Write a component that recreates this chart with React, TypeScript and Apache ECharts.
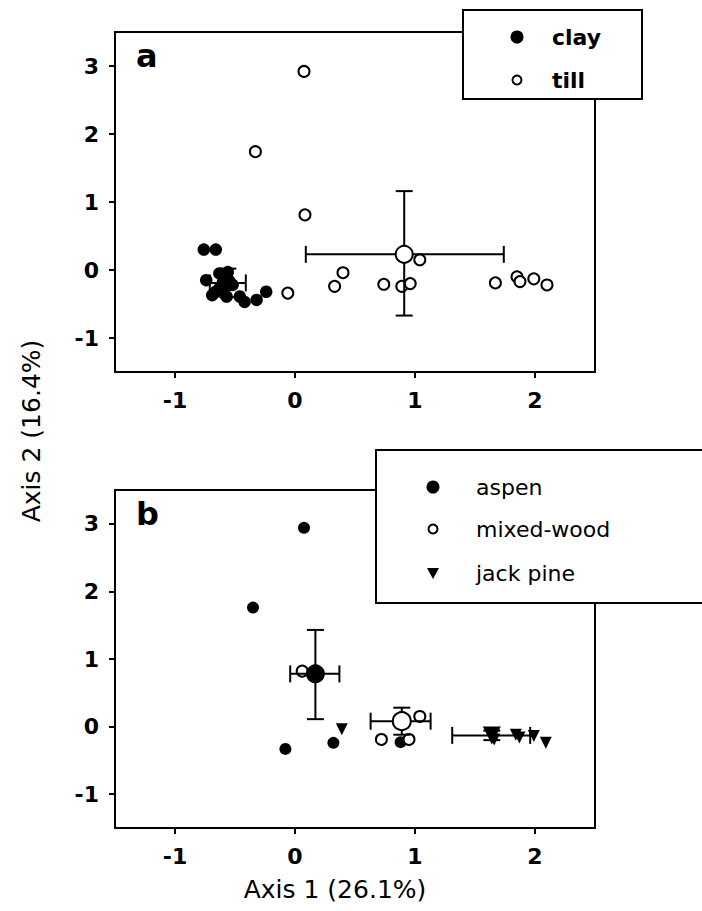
import React, { useEffect, useRef } from "react";
import * as echarts from "echarts";

const X_TICKS = [-1, 0, 1, 2];
const Y_TICKS = [-1, 0, 1, 2, 3];

// Panel a: soil type
const clayPoints: number[][] = [
  [-0.76, 0.3], [-0.66, 0.3], [-0.74, -0.15], [-0.63, -0.05], [-0.56, -0.03],
  [-0.69, -0.37], [-0.63, -0.27], [-0.52, -0.22], [-0.57, -0.39], [-0.46, -0.39],
  [-0.42, -0.47], [-0.32, -0.44], [-0.24, -0.32], [-0.66, -0.32], [-0.6, -0.18],
];
const tillPoints: number[][] = [
  [0.075, 2.92], [-0.33, 1.74], [0.083, 0.81], [1.04, 0.15], [0.4, -0.04],
  [0.33, -0.24], [0.74, -0.21], [0.89, -0.24], [0.96, -0.2], [1.67, -0.19],
  [1.85, -0.1], [1.875, -0.17], [1.99, -0.13], [2.1, -0.22], [-0.06, -0.34],
];
// mean: [x, y, xLow, xHigh, yLow, yHigh]
const clayMean = [-0.56, -0.19, -0.71, -0.41, -0.4, 0.02];
const tillMean = [0.91, 0.23, 0.09, 1.74, -0.67, 1.16];

// Panel b: forest type
const aspenPoints: number[][] = [
  [0.075, 2.94], [-0.35, 1.76], [-0.08, -0.33], [0.32, -0.24], [0.88, -0.23],
];
const mixedPoints: number[][] = [
  [0.06, 0.82], [0.72, -0.19], [0.95, -0.19], [1.04, 0.15],
];
const jackPoints: number[][] = [
  [0.39, -0.04], [1.66, -0.19], [1.84, -0.12], [1.87, -0.16], [1.99, -0.14], [2.09, -0.24],
];
const aspenMean = [0.17, 0.78, -0.04, 0.37, 0.11, 1.43];
const mixedMean = [0.89, 0.08, 0.63, 1.13, -0.12, 0.28];
const jackMean = [1.64, -0.13, 1.31, 1.96, -0.2, -0.06];

const FONT = "DejaVu Sans";

function xAxis(gridIndex: number) {
  return {
    type: "value",
    gridIndex,
    min: -1.5,
    max: 2.5,
    axisLine: { show: true, onZero: false, lineStyle: { color: "#000", width: 2 } },
    axisTick: { show: true, customValues: X_TICKS, length: 6, lineStyle: { color: "#000", width: 2 } },
    axisLabel: { customValues: X_TICKS, margin: 17, fontSize: 22, fontWeight: "bold", fontFamily: FONT, color: "#000" },
    splitLine: { show: false },
  };
}
function yAxis(gridIndex: number) {
  return {
    type: "value",
    gridIndex,
    min: -1.5,
    max: 3.5,
    axisLine: { show: true, onZero: false, lineStyle: { color: "#000", width: 2 } },
    axisTick: { show: true, customValues: Y_TICKS, length: 6, lineStyle: { color: "#000", width: 2 } },
    axisLabel: { customValues: Y_TICKS, margin: 16, fontSize: 22, fontWeight: "bold", fontFamily: FONT, color: "#000" },
    splitLine: { show: false },
  };
}

const CAP = 8.5;
function errRender(params: any, api: any) {
  const x = api.value(0), y = api.value(1);
  const l = api.coord([api.value(2), y]);
  const r = api.coord([api.value(3), y]);
  const b = api.coord([x, api.value(4)]);
  const t = api.coord([x, api.value(5)]);
  const st = { stroke: "#000", lineWidth: 2 };
  const ln = (x1: number, y1: number, x2: number, y2: number) => ({
    type: "line", shape: { x1, y1, x2, y2 }, style: st,
  });
  return {
    type: "group",
    children: [
      ln(l[0], l[1], r[0], r[1]),
      ln(t[0], t[1], b[0], b[1]),
      ln(l[0], l[1] - CAP, l[0], l[1] + CAP),
      ln(r[0], r[1] - CAP, r[0], r[1] + CAP),
      ln(t[0] - CAP, t[1], t[0] + CAP, t[1]),
      ln(b[0] - CAP, b[1], b[0] + CAP, b[1]),
    ],
  };
}

const filled = { color: "#000", opacity: 1 };
const open = { color: "#fff", borderColor: "#000", borderWidth: 2, opacity: 1 };

function pts(idx: number, data: number[][], symbol: string, size: number, style: any, rotate = 0, z = 2) {
  return {
    type: "scatter", xAxisIndex: idx, yAxisIndex: idx, data, symbol, symbolSize: size,
    symbolRotate: rotate, itemStyle: style, z, silent: true,
  };
}
function err(idx: number, m: number[]) {
  return {
    type: "custom", xAxisIndex: idx, yAxisIndex: idx, renderItem: errRender,
    data: [m], encode: { x: 0, y: 1 }, z: 3, silent: true,
  };
}

export default function App() {
  const ref = useRef<HTMLDivElement>(null);
  useEffect(() => {
    document.body.style.margin = "0";
    const chart = echarts.init(ref.current!, undefined, { renderer: "svg" });
    const txt = (text: string, x: number, y: number, size: number, weight = "normal", extra: any = {}) => ({
      type: "text", x, y, z: 110,
      style: { text, fontSize: size, fontWeight: weight, fontFamily: FONT, fill: "#000", verticalAlign: "middle", ...extra.style },
    });
    chart.setOption({
      animation: false,
      grid: [
        { left: 115, top: 32, width: 480, height: 340, show: true, borderColor: "#000", borderWidth: 2 },
        { left: 115, top: 490, width: 480, height: 338, show: true, borderColor: "#000", borderWidth: 2 },
      ],
      xAxis: [xAxis(0), xAxis(1)],
      yAxis: [yAxis(0), yAxis(1)],
      series: [
        pts(0, clayPoints, "circle", 12.5, filled),
        pts(0, tillPoints, "circle", 11, open),
        err(0, clayMean),
        err(0, tillMean),
        pts(0, [clayMean.slice(0, 2)], "circle", 17, filled, 0, 4),
        pts(0, [tillMean.slice(0, 2)], "circle", 17, open, 0, 4),
        pts(1, aspenPoints, "circle", 12, filled),
        pts(1, mixedPoints, "circle", 11, open),
        pts(1, jackPoints, "triangle", 12, filled, 180),
        err(1, aspenMean),
        err(1, mixedMean),
        err(1, jackMean),
        pts(1, [aspenMean.slice(0, 2)], "circle", 19, filled, 0, 4),
        pts(1, [mixedMean.slice(0, 2)], "circle", 18, open, 0, 4),
        pts(1, [jackMean.slice(0, 2)], "triangle", 18, filled, 180, 4),
      ],
      graphic: [
        txt("a", 136, 56, 32, "bold"),
        txt("b", 136, 514, 32, "bold"),
        txt("Axis 1 (26.1%)", 335, 889, 25, "normal", { style: { align: "center" } }),
        {
          type: "text", x: 31, y: 431, rotation: Math.PI / 2, z: 110,
          style: { text: "Axis 2 (16.4%)", fontSize: 25, fontFamily: FONT, fill: "#000", align: "center", verticalAlign: "middle" },
        },
        // legend a
        { type: "rect", z: 100, shape: { x: 463, y: 10, width: 179, height: 89 }, style: { fill: "#fff", stroke: "#000", lineWidth: 2 } },
        { type: "circle", z: 110, shape: { cx: 517, cy: 37, r: 6.5 }, style: { fill: "#000" } },
        txt("clay", 552, 37, 22, "bold"),
        { type: "circle", z: 110, shape: { cx: 517, cy: 80, r: 4.5 }, style: { fill: "#fff", stroke: "#000", lineWidth: 2 } },
        txt("till", 552, 80, 22, "bold"),
        // legend b
        { type: "rect", z: 100, shape: { x: 376, y: 450, width: 340, height: 153 }, style: { fill: "#fff", stroke: "#000", lineWidth: 2 } },
        { type: "circle", z: 110, shape: { cx: 433, cy: 487, r: 6.5 }, style: { fill: "#000" } },
        txt("aspen", 476, 487, 22),
        { type: "circle", z: 110, shape: { cx: 433, cy: 529, r: 4.5 }, style: { fill: "#fff", stroke: "#000", lineWidth: 2 } },
        txt("mixed-wood", 476, 529, 22),
        { type: "polygon", z: 110, shape: { points: [[427, 568], [439, 568], [433, 579]] }, style: { fill: "#000" } },
        txt("jack pine", 476, 573, 22),
      ],
    });
    return () => chart.dispose();
  }, []);
  return <div ref={ref} style={{ width: 702, height: 911 }} />;
}
